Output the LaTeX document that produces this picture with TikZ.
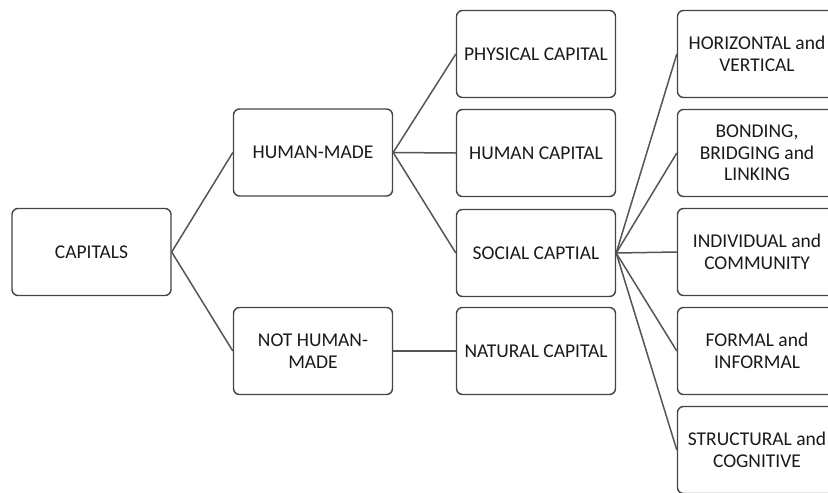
\documentclass[tikz,border=0pt]{standalone}
\usepackage{fontspec}
\setmainfont{Carlito}
\definecolor{boxline}{HTML}{454545}
\definecolor{linkline}{HTML}{555555}
\definecolor{labeltext}{HTML}{1A1A1A}
\tikzset{
  capbox/.style={draw=boxline, line width=1.4pt, rounded corners=6pt, fill=white,
    minimum width=159pt, minimum height=87pt, align=center, inner sep=2pt,
    text=labeltext, font=\fontsize{19.5}{21.5}\selectfont},
  capline/.style={draw=linkline, line width=1.5pt}
}
\begin{document}
\begin{tikzpicture}[x=1pt,y=-1pt]
\useasboundingbox (0,0) rectangle (828,493);
\clip (0,0) rectangle (828,493);
% first and second column
\node[capbox] (capitals) at (91.5,252) {CAPITALS};
\node[capbox] (humanmade) at (313,152.5) {HUMAN-MADE};
\node[capbox] (nothuman) at (313,351) {NOT HUMAN-\\MADE};
% third column
\foreach \y/\nm/\lab in {54/physical/{PHYSICAL CAPITAL}, 153/humancap/{HUMAN CAPITAL}, 253/social/{SOCIAL CAPTIAL}, 351/natural/{NATURAL CAPITAL}} {
  \node[capbox] (\nm) at (536,\y) {\lab};
}
% forms of social capital
\foreach \y/\nm/\lab in {54/horiz/{HORIZONTAL and\\VERTICAL}, 153/bonding/{BONDING,\\BRIDGING and\\LINKING}, 252/individual/{INDIVIDUAL and\\COMMUNITY}, 351/formal/{FORMAL and\\INFORMAL}, 450/structural/{STRUCTURAL and\\COGNITIVE}} {
  \node[capbox] (\nm) at (757,\y) {\lab};
}
\foreach \a/\b in {capitals/humanmade, capitals/nothuman, humanmade/physical, humanmade/humancap, humanmade/social, nothuman/natural, social/horiz, social/bonding, social/individual, social/formal, social/structural} {
  \draw[capline] (\a.east) -- (\b.west);
}
\end{tikzpicture}
\end{document}
